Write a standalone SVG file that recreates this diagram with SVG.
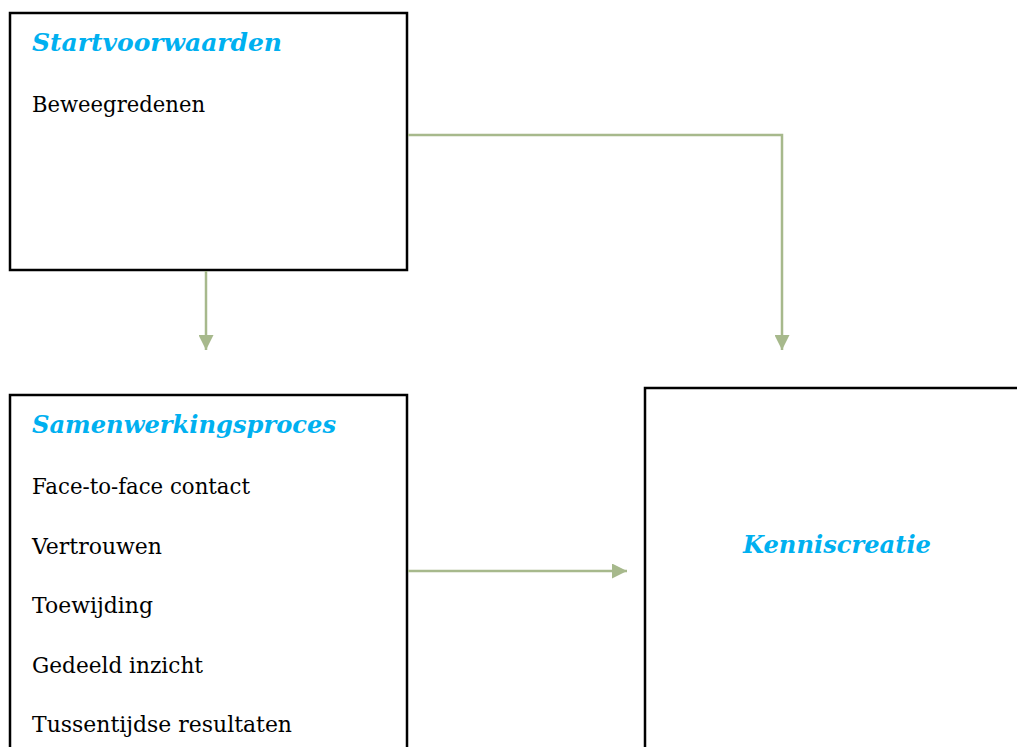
<svg xmlns="http://www.w3.org/2000/svg" width="1017" height="747" viewBox="0 0 1017 747">
  <style>
    .box { fill: #ffffff; stroke: #000000; stroke-width: 2.5; }
    .title { font-family: "DejaVu Serif", "Liberation Serif", serif; font-size: 24px; font-weight: bold; font-style: italic; fill: #00b0f0; }
    .item { font-family: "DejaVu Serif", "Liberation Serif", serif; font-size: 22px; fill: #000000; }
    .link { fill: none; stroke: #a7b98c; stroke-width: 2.5; }
  </style>
  <defs>
    <marker id="arrow" viewBox="0 0 10 10" refX="10" refY="5" markerWidth="6" markerHeight="6" markerUnits="strokeWidth" orient="auto">
      <path d="M0,0 L10,5 L0,10 Z" fill="#a7b98c"/>
    </marker>
  </defs>
  <rect width="1017" height="747" fill="#ffffff"/>

  <g id="startvoorwaarden">
    <rect class="box" x="10" y="13" width="397" height="257"/>
    <text class="title" x="32" y="51" textLength="250" lengthAdjust="spacingAndGlyphs">Startvoorwaarden</text>
    <text class="item" x="32" y="112" textLength="173" lengthAdjust="spacingAndGlyphs">Beweegredenen</text>
  </g>

  <g id="samenwerkingsproces">
    <rect class="box" x="10" y="395" width="397" height="370"/>
    <text class="title" x="32" y="433" textLength="304" lengthAdjust="spacingAndGlyphs">Samenwerkingsproces</text>
    <text class="item" x="32" y="494" textLength="218" lengthAdjust="spacingAndGlyphs">Face-to-face contact</text>
    <text class="item" x="32" y="554" textLength="130" lengthAdjust="spacingAndGlyphs">Vertrouwen</text>
    <text class="item" x="32" y="613" textLength="121" lengthAdjust="spacingAndGlyphs">Toewijding</text>
    <text class="item" x="32" y="673" textLength="171" lengthAdjust="spacingAndGlyphs">Gedeeld inzicht</text>
    <text class="item" x="32" y="732" textLength="260" lengthAdjust="spacingAndGlyphs">Tussentijdse resultaten</text>
  </g>

  <g id="kenniscreatie">
    <rect class="box" x="645" y="388" width="400" height="380"/>
    <text class="title" x="743" y="553" textLength="188" lengthAdjust="spacingAndGlyphs">Kenniscreatie</text>
  </g>

  <g id="connectors">
    <path class="link" d="M206,271 V350" marker-end="url(#arrow)"/>
    <path class="link" d="M408,135 H782 V350" marker-end="url(#arrow)"/>
    <path class="link" d="M408,571 H627" marker-end="url(#arrow)"/>
  </g>
</svg>
